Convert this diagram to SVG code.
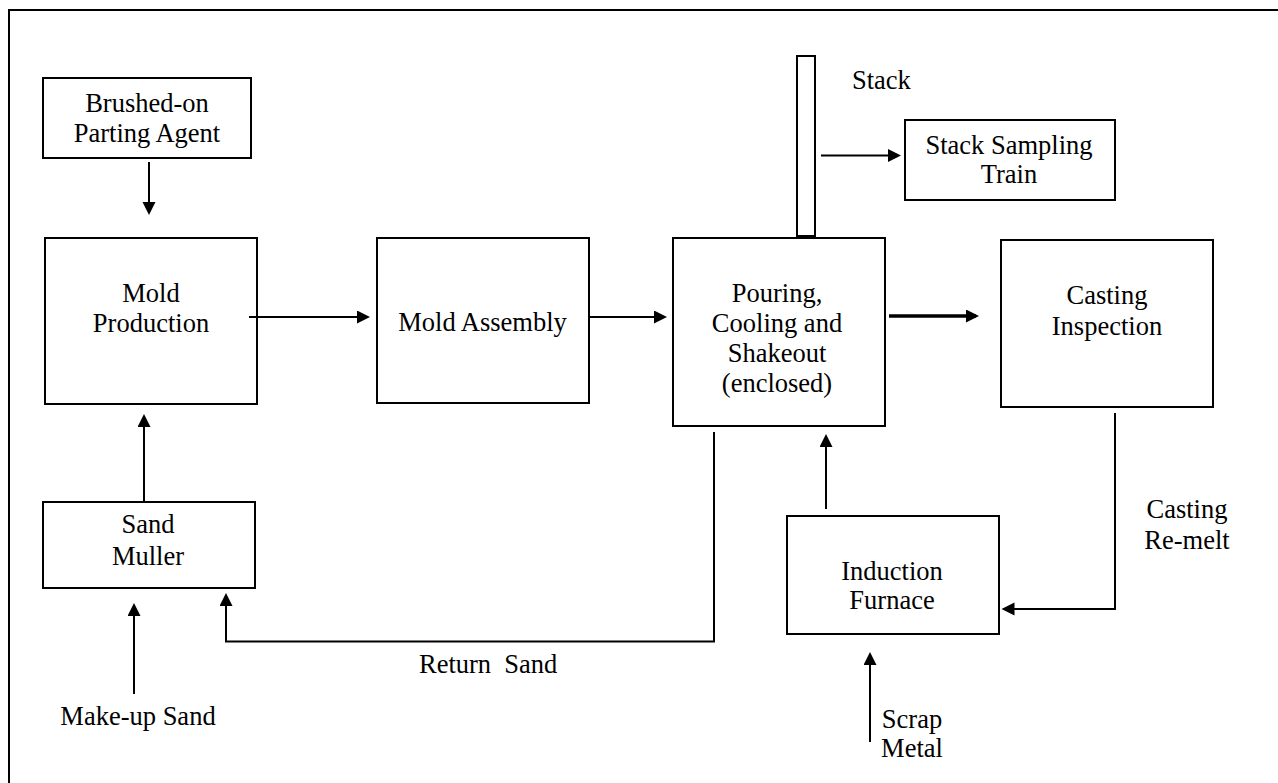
<svg xmlns="http://www.w3.org/2000/svg" width="1278" height="783" viewBox="0 0 1278 783">
<style>
.box{fill:#fff;stroke:#000;stroke-width:2}
.t{font-family:"Liberation Serif","Times New Roman",serif;font-size:26.5px;fill:#000;text-anchor:middle}
.l{font-family:"Liberation Serif","Times New Roman",serif;font-size:26.5px;fill:#000}
.c{fill:none;stroke:#000;stroke-width:2}
.thick{fill:none;stroke:#000;stroke-width:3.5}
</style>
<defs>
<marker id="ah" markerUnits="userSpaceOnUse" markerWidth="14" markerHeight="14" refX="10" refY="6.5" orient="auto">
<path d="M0,0 L13,6.5 L0,13 z" fill="#000"/>
</marker>
</defs>
<rect width="1278" height="783" fill="#fff"/>
<path d="M9,783 V10 H1278" fill="none" stroke="#000" stroke-width="2"/>

<g id="brushed">
<rect class="box" x="43" y="78" width="208" height="80"/>
<text class="t" x="147" y="112">Brushed-on</text>
<text class="t" x="147" y="142">Parting Agent</text>
</g>
<g id="mold-production">
<rect class="box" x="45" y="238" width="212" height="166"/>
<text class="t" x="151" y="302">Mold</text>
<text class="t" x="151" y="332">Production</text>
</g>
<g id="mold-assembly">
<rect class="box" x="377" y="238" width="212" height="165"/>
<text class="t" x="482.5" y="331">Mold Assembly</text>
</g>
<g id="pouring">
<rect class="box" x="673" y="238" width="212" height="188"/>
<text class="t" x="777" y="302">Pouring,</text>
<text class="t" x="777" y="332">Cooling and</text>
<text class="t" x="777" y="362">Shakeout</text>
<text class="t" x="777" y="392">(enclosed)</text>
</g>
<g id="stack">
<rect class="box" x="797" y="56" width="18" height="180"/>
<text class="l" x="852" y="89">Stack</text>
</g>
<g id="stack-sampling">
<rect class="box" x="905" y="120" width="210" height="80"/>
<text class="t" x="1009" y="154">Stack Sampling</text>
<text class="t" x="1009" y="183">Train</text>
</g>
<g id="casting-inspection">
<rect class="box" x="1001" y="240" width="212" height="167"/>
<text class="t" x="1107" y="304">Casting</text>
<text class="t" x="1107" y="335">Inspection</text>
</g>
<g id="sand-muller">
<rect class="box" x="43" y="502" width="212" height="86"/>
<text class="t" x="148" y="533">Sand</text>
<text class="t" x="148" y="565">Muller</text>
</g>
<g id="induction-furnace">
<rect class="box" x="787" y="516" width="212" height="118"/>
<text class="t" x="892" y="580">Induction</text>
<text class="t" x="892" y="609">Furnace</text>
</g>

<g id="connectors">
<line class="c" x1="149" y1="162" x2="149" y2="212" marker-end="url(#ah)"/>
<line class="c" x1="249" y1="317" x2="367" y2="317" marker-end="url(#ah)"/>
<line class="c" x1="589" y1="317" x2="664" y2="317" marker-end="url(#ah)"/>
<line class="thick" x1="889" y1="316" x2="976" y2="316" marker-end="url(#ah)"/>
<line class="c" x1="821" y1="155.5" x2="898" y2="155.5" marker-end="url(#ah)"/>
<line class="c" x1="144" y1="501" x2="144" y2="417" marker-end="url(#ah)"/>
<line class="c" x1="134" y1="694" x2="134" y2="606" marker-end="url(#ah)"/>
<polyline class="c" points="714,432 714,641.5 226,641.5 226,596" marker-end="url(#ah)"/>
<line class="c" x1="826" y1="509" x2="826" y2="437" marker-end="url(#ah)"/>
<polyline class="c" points="1115,413 1115,609 1004.5,609" marker-end="url(#ah)"/>
<line class="c" x1="870" y1="742" x2="870" y2="655" marker-end="url(#ah)"/>
</g>

<g id="labels">
<text class="l" x="419" y="673" xml:space="preserve">Return  Sand</text>
<text class="t" x="138" y="725">Make-up Sand</text>
<text class="t" x="1187" y="518">Casting</text>
<text class="t" x="1187" y="549">Re-melt</text>
<text class="t" x="912" y="728">Scrap</text>
<text class="t" x="912" y="757">Metal</text>
</g>
</svg>
